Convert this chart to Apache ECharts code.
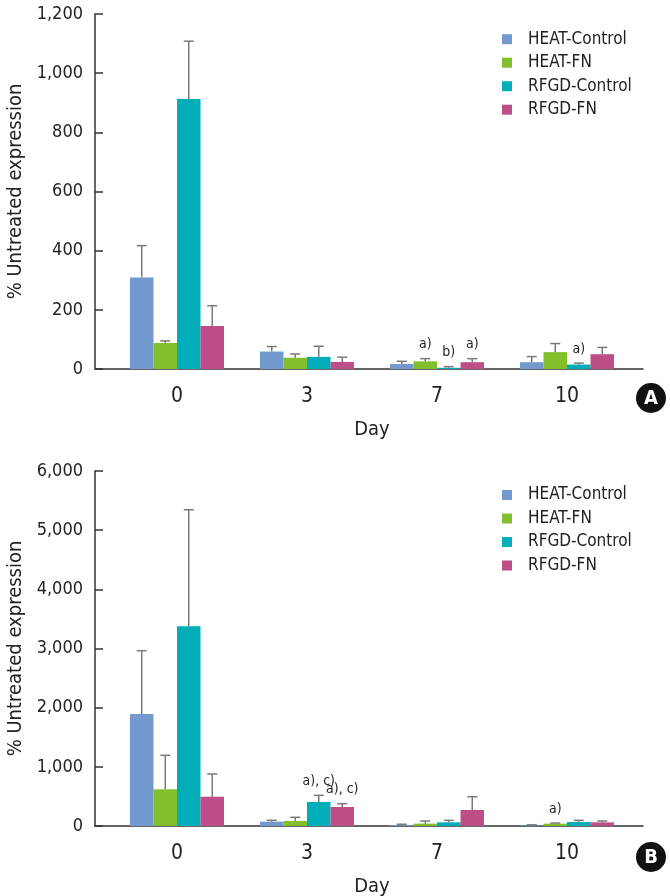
<!DOCTYPE html>
<html>
<head>
<meta charset="utf-8">
<style>
  html, body { margin: 0; padding: 0; background: #fff; }
  #chart { width: 670px; height: 896px; }
</style>
<script src="https://cdn.jsdelivr.net/npm/echarts@6/dist/echarts.min.js"></script>
</head>
<body>
<div id="chart"></div>
<script>
// categories / series
const days = ["0", "3", "7", "10"];
const seriesNames = ["HEAT-Control", "HEAT-FN", "RFGD-Control", "RFGD-FN"];
const colors = ["#7399cf", "#82bf2c", "#00adb8", "#be4e87"];

// panel A: means and upper error (SD)
const aHeatControl = [309, 59, 17, 23];
const aHeatFN = [88, 38, 26, 57];
const aRfgdControl = [913, 41, 4, 15];
const aRfgdFN = [145, 24, 23, 50];
const aSdHeatControl = [108, 17, 9, 19];
const aSdHeatFN = [7, 13, 9, 29];
const aSdRfgdControl = [195, 36, 4, 5];
const aSdRfgdFN = [69, 16, 12, 23];
const aNotes = [
  ["", "", "", ""],
  ["", "", "a)", ""],
  ["", "", "b)", "a)"],
  ["", "", "a)", ""]
];
const aTicks = [0, 200, 400, 600, 800, 1000, 1200];

// panel B
const bHeatControl = [1893, 73, 15, 10];
const bHeatFN = [620, 85, 40, 40];
const bRfgdControl = [3375, 406, 62, 68];
const bRfgdFN = [495, 321, 270, 62];
const bSdHeatControl = [1070, 23, 15, 10];
const bSdHeatFN = [575, 62, 45, 10];
const bSdRfgdControl = [1970, 112, 34, 28];
const bSdRfgdFN = [384, 56, 225, 23];
const bNotes = [
  ["", "", "", ""],
  ["", "", "", "a)"],
  ["", "a), c)", "", ""],
  ["", "a), c)", "", ""]
];
const bTicks = [0, 1000, 2000, 3000, 4000, 5000, 6000];

const FONT = "'Liberation Sans Narrow', 'DejaVu Sans Condensed', 'Roboto Condensed', sans-serif";
const BAR_W = 23.5;
const axisColor = "#333";

const dom = document.getElementById("chart");
const chart = echarts.init(dom, null, { renderer: "canvas" });

function fmt(v) {
  return v.toLocaleString("en-US");
}

function panelSeries(axisIdx, means, sds, notes) {
  const out = [];
  means.forEach(function (vals, k) {
    out.push({
      name: seriesNames[k],
      type: "bar",
      xAxisIndex: axisIdx,
      yAxisIndex: axisIdx,
      barWidth: BAR_W,
      barGap: 0,
      itemStyle: { color: colors[k] },
      data: vals
    });
  });
  means.forEach(function (vals, k) {
    out.push({
      name: seriesNames[k],
      type: "custom",
      xAxisIndex: axisIdx,
      yAxisIndex: axisIdx,
      z: 5,
      renderItem: function (params, api) {
        const i = api.value(0);
        const base = api.coord([i, api.value(1)]);
        const top = api.coord([i, api.value(1) + api.value(2)]);
        const x = base[0] + (k - 1.5) * BAR_W;
        const children = [
          { type: "line", shape: { x1: x, y1: base[1], x2: x, y2: top[1] },
            style: { stroke: "#7a7a7a", lineWidth: 1.5 } },
          { type: "line", shape: { x1: x - 5, y1: top[1], x2: x + 5, y2: top[1] },
            style: { stroke: "#7a7a7a", lineWidth: 1.5 } }
        ];
        const note = notes[k][i];
        if (note) {
          children.push({
            type: "text",
            style: {
              text: note, x: x, y: top[1] - 7,
              align: "center", verticalAlign: "bottom",
              font: "14px " + FONT, fill: "#222"
            }
          });
        }
        return { type: "group", children: children };
      },
      data: vals.map(function (v, i) { return [i, v, sds[k][i]]; })
    });
  });
  return out;
}

function frameAxes(gridIdx, ticks) {
  return {
    x: {
      type: "category", gridIndex: gridIdx, data: days,
      axisLine: { show: true, lineStyle: { color: axisColor, width: 1.5 } },
      axisTick: { show: false }, axisLabel: { show: false }
    },
    y: {
      type: "value", gridIndex: gridIdx,
      min: ticks[0], max: ticks[ticks.length - 1],
      interval: ticks[1] - ticks[0],
      name: "% Untreated expression",
      nameLocation: "middle", nameGap: 68,
      nameTextStyle: { fontFamily: FONT, fontSize: 20, color: "#222" },
      axisLine: { show: true, lineStyle: { color: axisColor, width: 1.5 } },
      axisTick: { show: true, inside: true, length: 8, lineStyle: { color: axisColor, width: 1.5 } },
      axisLabel: { formatter: fmt, fontFamily: FONT, fontSize: 18, color: "#222", margin: 12 },
      splitLine: { show: false }
    }
  };
}

function barAxes(gridIdx, ticks) {
  return {
    x: {
      type: "category", gridIndex: gridIdx, data: days,
      name: "Day", nameLocation: "middle", nameGap: 51,
      nameTextStyle: { fontFamily: FONT, fontSize: 20, color: "#222" },
      axisLine: { show: false }, axisTick: { show: false },
      axisLabel: { fontFamily: FONT, fontSize: 21, color: "#222", margin: 17 }
    },
    y: {
      type: "value", gridIndex: gridIdx, show: false,
      min: ticks[0], max: ticks[ticks.length - 1],
      splitLine: { show: false }
    }
  };
}

const fa = frameAxes(0, aTicks), ba = barAxes(1, aTicks);
const fb = frameAxes(2, bTicks), bb = barAxes(3, bTicks);

function legendAt(top) {
  return {
    orient: "vertical", left: 497, top: top,
    data: seriesNames, icon: "rect",
    itemWidth: 10, itemHeight: 10, itemGap: 5.5,
    textStyle: { fontFamily: FONT, fontSize: 17, color: "#222", lineHeight: 18, padding: [0, 0, 0, 11] }
  };
}

function badge(letter, cy) {
  return {
    type: "group",
    children: [
      { type: "circle", shape: { cx: 651, cy: cy, r: 15 }, style: { fill: "#111" } },
      { type: "text", style: { text: letter, x: 651, y: cy + 1, align: "center", verticalAlign: "middle",
          font: "bold 20px " + FONT, fill: "#fff" } }
    ]
  };
}

const gridBase = { outerBoundsMode: "none", containLabel: false };

const option = {
  animation: false,
  grid: [
    Object.assign({ left: 95, width: 548, top: 14, height: 355 }, gridBase),
    Object.assign({ left: 112, width: 520, top: 14, height: 355 }, gridBase),
    Object.assign({ left: 95, width: 548, top: 471, height: 355 }, gridBase),
    Object.assign({ left: 112, width: 520, top: 471, height: 355 }, gridBase)
  ],
  xAxis: [fa.x, ba.x, fb.x, bb.x],
  yAxis: [fa.y, ba.y, fb.y, bb.y],
  legend: [legendAt(25.2), legendAt(481)],
  graphic: [badge("A", 398), badge("B", 857)],
  series: [].concat(
    panelSeries(1,
      [aHeatControl, aHeatFN, aRfgdControl, aRfgdFN],
      [aSdHeatControl, aSdHeatFN, aSdRfgdControl, aSdRfgdFN], aNotes),
    panelSeries(3,
      [bHeatControl, bHeatFN, bRfgdControl, bRfgdFN],
      [bSdHeatControl, bSdHeatFN, bSdRfgdControl, bSdRfgdFN], bNotes)
  )
};

chart.setOption(option);
</script>
</body>
</html>
